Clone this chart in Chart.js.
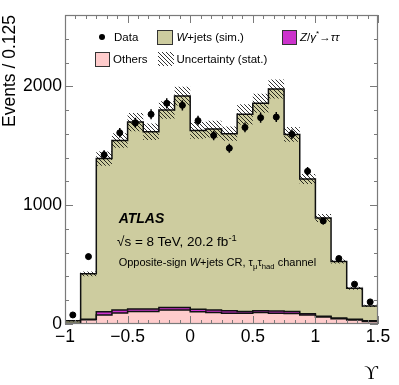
<!DOCTYPE html>
<html>
<head>
<meta charset="utf-8">
<script src="https://cdn.jsdelivr.net/npm/chart.js@4.4.0/dist/chart.umd.min.js"></script>
<style>
  html, body { margin: 0; padding: 0; background: #fff; }
  #wrap { position: relative; width: 399px; height: 385px; font-family: "Liberation Sans", Arial, sans-serif; }
  #wrap canvas { position: absolute; left: 0; top: 0; }
  .lbl { position: absolute; white-space: nowrap; color: #000; line-height: 1; }
  .leg { font-size: 11.5px; }
  .box { position: absolute; box-sizing: border-box; border: 1.5px solid #333; }
  sup, sub { font-size: 70%; line-height: 0; }
</style>
</head>
<body>
<div id="wrap">
  <canvas id="chart" width="399" height="385"></canvas>

  <!-- legend -->
  <div style="position:absolute;left:99px;top:34.3px;width:6px;height:6px;border-radius:50%;background:#000"></div>
  <div class="lbl leg" style="left:114px;top:31.6px">Data</div>
  <div class="box" style="left:157px;top:30px;width:16px;height:15px;background:#cdcc9f"></div>
  <div class="lbl leg" style="left:176.5px;top:31.6px"><i>W</i>+jets (sim.)</div>
  <div class="box" style="left:282px;top:30px;width:15px;height:15px;background:#cc33cc"></div>
  <div class="lbl leg" style="left:300px;top:31.6px"><i>Z</i>/<i>γ</i><sup>*</sup>→<i>ττ</i></div>
  <div class="box" style="left:95px;top:52px;width:15px;height:14.5px;background:#ffcccc"></div>
  <div class="lbl leg" style="left:113px;top:54px">Others</div>
  <div id="hatchBox" style="position:absolute;left:158px;top:52px;width:16px;height:14px"></div>
  <div class="lbl leg" style="left:176.5px;top:54px">Uncertainty (stat.)</div>

  <!-- ATLAS label -->
  <div class="lbl" style="left:118.7px;top:211px;font-size:14px;font-weight:bold;font-style:italic">ATLAS</div>
  <div class="lbl" style="left:117px;top:235px;font-size:13.5px">√s = 8 TeV, 20.2 fb<sup>-1</sup></div>
  <div class="lbl" style="left:118.7px;top:256.7px;font-size:11px">Opposite-sign <i>W</i>+jets CR, τ<sub>μ</sub>τ<sub>had</sub> channel</div>
</div>

<script>
// bins of 0.125 in Upsilon
const binEdges = [-1, -0.875, -0.75, -0.625, -0.5, -0.375, -0.25, -0.125, 0, 0.125,
  0.25, 0.375, 0.5, 0.625, 0.75, 0.875, 1, 1.125, 1.25, 1.375, 1.5];

// stacked backgrounds (events / bin)
const wjets = [23, 381, 1289, 1426, 1572, 1491, 1662, 1780, 1505, 1522,
  1489, 1658, 1745, 1867, 1490, 1134, 826, 476, 262, 124];
const ztautau = [1, 5, 27, 25, 21, 21, 20, 20, 20, 22,
  22, 16, 16, 20, 17, 11, 7, 5, 5, 6];
const others = [4, 36, 76, 93, 106, 106, 118, 118, 104, 96,
  90, 90, 96, 90, 88, 76, 59, 45, 34, 22];
const mcStatUnc = [6, 20, 60, 62, 77, 70, 74, 79, 70, 70,
  60, 85, 80, 80, 62, 42, 34, 16, 12, 10];

// data
const dataCounts = [76, 567, 1424, 1609, 1694, 1764, 1857, 1840, 1711, 1587,
  1479, 1654, 1736, 1741, 1597, 1285, 867, 551, 335, 186];
const dataErr = [9, 24, 38, 40, 41, 42, 43, 43, 41, 40,
  38, 41, 42, 42, 40, 36, 29, 23, 18, 14];

// axis ticks
const xMajorTicks = [-1, -0.5, 0, 0.5, 1, 1.5];
const xMinorPerMajor = 6;
const yMajorTicks = [0, 1000, 2000];
const yMinorStep = 200;
const yMax = 2600;

const OLIVE = '#cdcc9f';
const PINK = '#ffcccc';
const MAGENTA = '#cc33cc';

Chart.defaults.font.family = '"Liberation Sans", Arial, sans-serif';
Chart.defaults.color = '#000';

// histogram outline as step points at bin edges
const steps = (vals) => {
  const pts = vals.map((v, i) => ({ x: binEdges[i], y: v }));
  pts.push({ x: binEdges[vals.length], y: vals[vals.length - 1] });
  return pts;
};

const stackOZ = others.map((v, i) => v + ztautau[i]);
const stackAll = stackOZ.map((v, i) => v + wjets[i]);
const bandLo = stackAll.map((v, i) => v - mcStatUnc[i]);
const bandHi = stackAll.map((v, i) => v + mcStatUnc[i]);
const dataPts = dataCounts.map((v, i) => ({ x: (binEdges[i] + binEdges[i + 1]) / 2, y: v }));

// hatch tile for the uncertainty band
const tile = document.createElement('canvas');
tile.width = 4; tile.height = 4;
const tg = tile.getContext('2d');
tg.strokeStyle = 'rgba(0,0,0,0.8)';
tg.lineWidth = 1;
tg.beginPath();
for (let k = -1; k <= 1; k++) {
  tg.moveTo(k * 4, 0);
  tg.lineTo(k * 4 + 4, 4);
}
tg.stroke();
document.getElementById('hatchBox').style.backgroundImage = 'url(' + tile.toDataURL() + ')';

const canvas = document.getElementById('chart');
const hatch = canvas.getContext('2d').createPattern(tile, 'repeat');

// inward tick marks on all four sides + frame
const frameTicks = {
  id: 'frameTicks',
  afterDatasetsDraw(chart) {
    const { ctx, chartArea: a, scales: { x, y } } = chart;
    ctx.save();
    ctx.strokeStyle = '#7a7a7a';
    ctx.lineWidth = 1;
    ctx.beginPath();
    const xStep = (xMajorTicks[1] - xMajorTicks[0]) / xMinorPerMajor;
    const nx = Math.round((xMajorTicks[xMajorTicks.length - 1] - xMajorTicks[0]) / xStep);
    for (let i = 0; i <= nx; i++) {
      const px = Math.round(x.getPixelForValue(xMajorTicks[0] + i * xStep)) + 0.5;
      const len = i % xMinorPerMajor === 0 ? 8 : 4;
      ctx.moveTo(px, a.bottom); ctx.lineTo(px, a.bottom - len);
      ctx.moveTo(px, a.top); ctx.lineTo(px, a.top + len);
    }
    for (let v = 0; v <= yMax; v += yMinorStep) {
      const py = Math.round(y.getPixelForValue(v)) + 0.5;
      const len = yMajorTicks.includes(v) ? 8 : 4;
      ctx.moveTo(a.left, py); ctx.lineTo(a.left + len, py);
      ctx.moveTo(a.right, py); ctx.lineTo(a.right - len, py);
    }
    ctx.stroke();
    ctx.lineWidth = 1.2;
    ctx.strokeRect(a.left + 0.5, a.top + 0.5, a.right - a.left - 1, a.bottom - a.top - 1);

    // data error bars
    ctx.strokeStyle = '#000';
    ctx.lineWidth = 1.5;
    ctx.beginPath();
    dataPts.forEach((p, i) => {
      const px = x.getPixelForValue(p.x);
      ctx.moveTo(px, y.getPixelForValue(p.y - dataErr[i]));
      ctx.lineTo(px, y.getPixelForValue(p.y + dataErr[i]));
    });
    ctx.stroke();
    ctx.restore();
  }
};

const histLine = (label, vals, color, order) => ({
  type: 'line',
  label,
  data: steps(vals),
  stepped: true,
  fill: 'origin',
  backgroundColor: color,
  borderColor: '#111',
  borderWidth: 1.5,
  pointRadius: 0,
  order
});

new Chart(canvas, {
  type: 'line',
  data: {
    datasets: [
      {
        label: 'Data',
        data: dataPts,
        showLine: false,
        pointRadius: 3,
        pointBackgroundColor: '#000',
        pointBorderColor: '#000',
        order: 0
      },
      {
        label: 'band low',
        data: steps(bandLo),
        stepped: true,
        borderWidth: 0,
        pointRadius: 0,
        fill: false,
        order: 1
      },
      {
        label: 'Uncertainty (stat.)',
        data: steps(bandHi),
        stepped: true,
        borderWidth: 0,
        pointRadius: 0,
        fill: '-1',
        backgroundColor: hatch,
        order: 1
      },
      histLine('Others', others, PINK, 4),
      histLine('Z/γ*→ττ', stackOZ, MAGENTA, 5),
      histLine('W+jets (sim.)', stackAll, OLIVE, 6)
    ]
  },
  options: {
    responsive: false,
    animation: false,
    layout: { padding: { top: 15, right: 21, left: 0, bottom: 0 } },
    plugins: { legend: { display: false }, tooltip: { enabled: false } },
    scales: {
      x: {
        type: 'linear',
        min: -1,
        max: 1.5,
        afterBuildTicks: (s) => { s.ticks = xMajorTicks.map(v => ({ value: v })); },
        afterFit: (s) => { s.height = 61; },
        grid: { display: false, drawTicks: false },
        border: { display: false },
        ticks: {
          autoSkip: false,
          maxRotation: 0,
          padding: 3,
          font: { size: 17.5 },
          callback: (v) => (v < 0 ? '\u2212' + Math.abs(v) : String(v))
        },
        title: {
          display: true,
          text: 'ϒ',
          align: 'end',
          padding: { top: 5, bottom: 0 },
          font: { family: '"Liberation Serif", "DejaVu Serif", serif', size: 19 }
        }
      },
      y: {
        min: 0,
        max: yMax,
        afterBuildTicks: (s) => { s.ticks = yMajorTicks.map(v => ({ value: v })); },
        afterFit: (s) => { s.width = 65; },
        grid: { display: false, drawTicks: false },
        border: { display: false },
        ticks: {
          padding: 3,
          font: { size: 17.5 },
          callback: (v) => String(v)
        },
        title: {
          display: true,
          text: 'Events / 0.125',
          align: 'end',
          padding: { top: 0, bottom: 0 },
          font: { size: 17.5 }
        }
      }
    }
  },
  plugins: [frameTicks]
});
</script>
</body>
</html>
